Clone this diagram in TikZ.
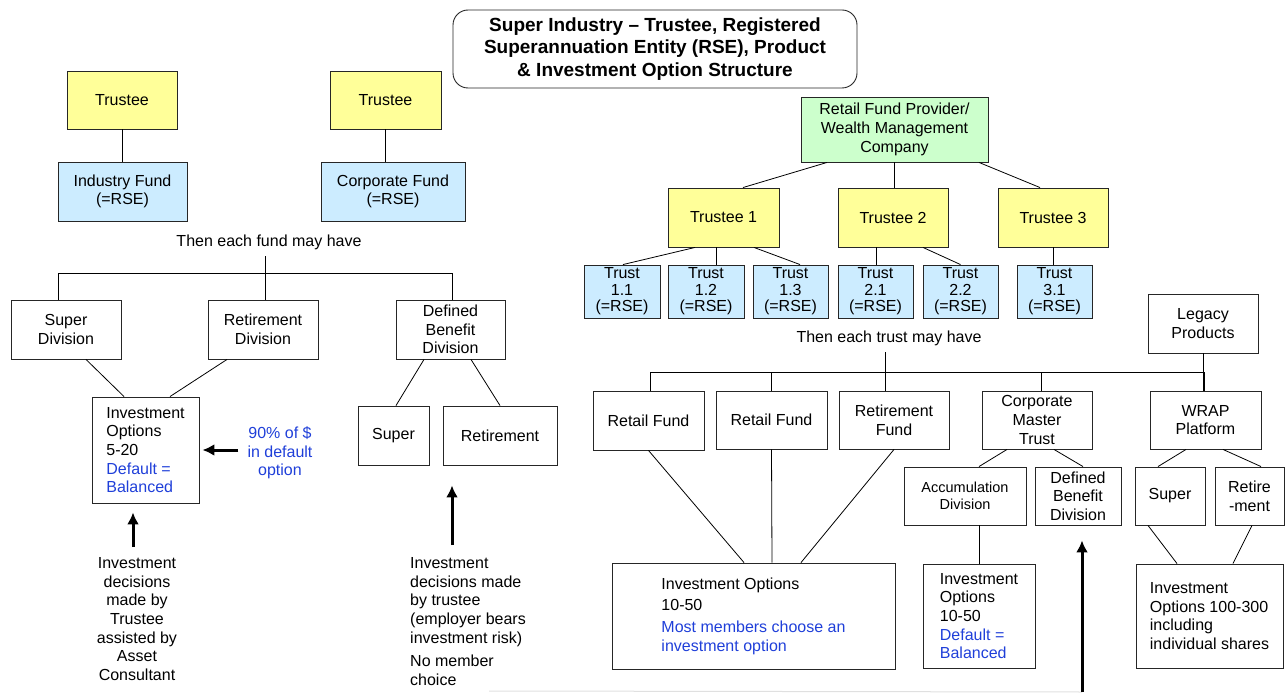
\documentclass[tikz,border=0pt]{standalone}
\usepackage{fontspec}
\setmainfont{Liberation Sans}
\usetikzlibrary{arrows.meta}
\definecolor{trusteeyellow}{HTML}{FFFF99}
\definecolor{rseblue}{HTML}{CCECFF}
\definecolor{providergreen}{HTML}{CCFFCC}
\definecolor{optblue}{HTML}{1F3FD9}

\begin{document}
\begin{tikzpicture}[x=1pt, y=-1pt,
  every node/.style={font=\fontsize{16}{18.7}\selectfont},
  box/.style 2 args={draw=black!85, line width=0.9pt, minimum width=#1pt, minimum height=#2pt, inner sep=0pt, align=center},
  trustee/.style={fill=trusteeyellow},
  rse/.style={fill=rseblue},
  trust/.style={rse, font=\fontsize{16}{16.5}\selectfont},
  provider/.style={fill=providergreen},
  link/.style={line width=0.8pt},
  arr/.style={line width=3pt, -{Latex[length=12pt, width=12pt]}},
  note/.style={inner sep=0pt, align=center},
  split/.style={inner xsep=0pt, inner ysep=6.5pt}]
\useasboundingbox (0,0) rectangle (1285,695);

% title
\node [draw=black!85, line width=0.9pt, rounded corners=15pt, minimum width=404pt, minimum height=78pt, align=center,
  font=\fontsize{19}{22.5}\selectfont\bfseries] (title) at (655,49)
  {Super Industry -- Trustee, Registered\\Superannuation Entity (RSE), Product\\\& Investment Option Structure};

% industry and corporate funds
\node [box={110}{58}, trustee] (tr1) at (122,100) {Trustee};
\node [box={111}{58}, trustee] (tr2) at (385.5,100) {Trustee};
\node [box={129}{59}, rse] (indf) at (122.5,191.5) {Industry Fund\\(=RSE)};
\node [box={144}{59}, rse] (corpf) at (393,191.5) {Corporate Fund\\(=RSE)};
\draw [link] (tr1.south) -- (tr1.south |- indf.north);
\draw [link] (tr2.south) -- (tr2.south |- corpf.north);

\node [split] (fundtxt) at (269,242) {Then each fund may have};
\node [box={110}{59}] (sdiv) at (66,329.5) {Super\\Division};
\node [box={110}{59}] (rdiv) at (263,329.5) {Retirement\\Division};
\node [box={109}{59}] (dbdiv) at (450.5,329.5) {Defined\\Benefit\\Division};
\draw [link] ([xshift=-4pt]fundtxt.south) -- ([xshift=2pt]rdiv.north);
\draw [link] ([xshift=-8pt]sdiv.north) -- ++(0,-26) -| ([xshift=2pt]dbdiv.north);

\node [box={107}{106}, align=left] (io1) at (145.5,450)
  {Investment\\Options\\5-20\\\textcolor{optblue}{Default =}\\\textcolor{optblue}{Balanced}};
\draw [link] ([xshift=20pt]sdiv.south) -- ([xshift=-21.5pt]io1.north);
\draw [link] ([xshift=-36pt]rdiv.south) -- ([xshift=24.5pt]io1.north);

\node [box={71}{59}] (sup1) at (393.5,435.5) {Super};
\node [box={114}{59}] (ret1) at (500,435.5) {Retirement};
\draw [link] ([xshift=-26.5pt]dbdiv.south) -- ([xshift=2.5pt]sup1.north);
\draw [link] ([xshift=20.5pt]dbdiv.south) -- (ret1.north);

\node [note, text=optblue] (pct) at (280,453) {90\% of \$\\in default\\option};
\draw [arr] ([xshift=-9pt]pct.west |- io1.east) -- ([xshift=3pt]io1.east);

\node [note] (dec1) at (137,619) {Investment\\decisions\\made by\\Trustee\\assisted by\\Asset\\Consultant};
\coordinate (a1) at (133,547);
\draw [arr] (a1) -- ([yshift=-9pt]io1.south -| a1);

\node [note, anchor=west, align=left] (dec2) at (410,621.5)
  {Investment\\decisions made\\by trustee\\(employer bears\\investment risk)\\[5pt]No member\\choice};
\coordinate (a2) at (452,545);
\draw [arr] (a2) -- ([yshift=-20pt]ret1.south -| a2);

% retail fund provider
\node [box={187}{65}, provider] (rfp) at (894.5,129.5) {Retail Fund Provider/\\Wealth Management\\Company};
\node [box={111}{59}, trustee] (t1) at (723.5,217.5) {Trustee 1};
\node [box={110}{59}, trustee] (t2) at (893,217.5) {Trustee 2};
\node [box={110}{59}, trustee] (t3) at (1053,217.5) {Trustee 3};
\draw [link] ([xshift=-67.5pt]rfp.south) -- ([xshift=19.5pt]t1.north);
\draw [link] (rfp.south) -- (rfp.south |- t2.north);
\draw [link] ([xshift=84.5pt]rfp.south) -- ([xshift=-13pt]t3.north);

\node [box={76}{53}, trust] (s11) at (622,291.5) {Trust\\1.1\\(=RSE)};
\node [box={76}{53}, trust] (s12) at (706,291.5) {Trust\\1.2\\(=RSE)};
\node [box={75}{53}, trust] (s13) at (790.5,291.5) {Trust\\1.3\\(=RSE)};
\node [box={75}{53}, trust] (s21) at (875.5,291.5) {Trust\\2.1\\(=RSE)};
\node [box={75}{53}, trust] (s22) at (960.5,291.5) {Trust\\2.2\\(=RSE)};
\node [box={75}{53}, trust] (s31) at (1054.5,291.5) {Trust\\3.1\\(=RSE)};
\draw [link] ([xshift=-28.5pt]t1.south) -- ([xshift=1pt]s11.north);
\draw [link] ([xshift=-7.5pt]t1.south) -- ([xshift=10pt]s12.north);
\draw [link] ([xshift=30.5pt]t1.south) -- ([xshift=9.5pt]s13.north);
\draw [link] ([xshift=-17pt]t2.south) -- ([xshift=0.5pt]s21.north);
\draw [link] ([xshift=30pt]t2.south) -- (s22.north);
\draw [link] (t3.south) -- (t3.south |- s31.north);

\node [split] (trusttxt) at (889,338) {Then each trust may have};
\node [box={110}{59}] (legacy) at (1203,323.5) {Legacy\\Products};

\node [box={111}{59}] (rf1) at (648.5,420.5) {Retail Fund};
\node [box={111}{58}] (rf2) at (771.5,420) {Retail Fund};
\node [box={110}{58}] (retf) at (894,420) {Retirement\\Fund};
\node [box={110}{58}] (cmt) at (1037,420) {Corporate\\Master\\Trust};
\node [box={111}{58}] (wrap) at (1205.5,420) {WRAP\\Platform};
\draw [link] ([xshift=-9pt]retf.north |- trusttxt.south) -- ([xshift=-9pt]retf.north);
\draw [link] ([xshift=1.5pt]rf1.north) -- ++(0,-18) -| ([xshift=-1.5pt]wrap.north);
\draw [link] (legacy.south) -- (legacy.south |- wrap.north);
\draw [link] (rf2.north) -- ++(0,-18);
\draw [link] ([xshift=4pt]cmt.north) -- ++(0,-18);

\node [box={122}{58}, font=\fontsize{14.5}{17}\selectfont] (acc) at (965,496) {Accumulation\\Division};
\node [box={86}{58}] (db2) at (1078,496) {Defined\\Benefit\\Division};
\node [box={70}{58}] (wsup) at (1170,496) {Super};
\node [box={69}{58}] (wret) at (1249.5,496) {Retire\\-ment};
\draw [link] ([xshift=-30pt]cmt.south) -- ([xshift=14pt]acc.north);
\draw [link] ([xshift=17pt]cmt.south) -- ([xshift=5pt]db2.north);
\draw [link] ([xshift=-19.5pt]wrap.south) -- ([xshift=-12pt]wsup.north);
\draw [link] ([xshift=17.5pt]wrap.south) -- ([xshift=11.5pt]wret.north);

\node [box={283}{106}, align=left] (io2) at (753.5,616)
  {Investment Options\\[3pt]10-50\\[3pt]\textcolor{optblue}{Most members choose an}\\\textcolor{optblue}{investment option}};
\node [box={112}{104}, align=left] (io3) at (979,616)
  {Investment\\Options\\10-50\\\textcolor{optblue}{Default =}\\\textcolor{optblue}{Balanced}};
\node [box={147}{104}, align=left] (io4) at (1209.5,616)
  {Investment\\Options 100-300\\including\\individual shares};
\draw [link] (rf1.south) -- ([xshift=-9.5pt]io2.north);
\draw [link] (rf2.south) -- ([xshift=18.5pt]io2.north);
\draw [link] (retf.south) -- ([xshift=47.5pt]io2.north);
\draw [link] ([xshift=14pt]acc.south) -- (io3.north);
\draw [link] ([xshift=-22pt]wsup.south) -- ([xshift=-32.5pt]io4.north);
\draw [link] ([xshift=2.5pt]wret.south) -- ([xshift=23.5pt]io4.north);

\coordinate (a3) at (1082,692);
\draw [black!12, line width=1pt] (489,691) -- (a3);
\draw [arr] (a3) -- ([yshift=-15pt]db2.south -| a3);
\end{tikzpicture}
\end{document}
